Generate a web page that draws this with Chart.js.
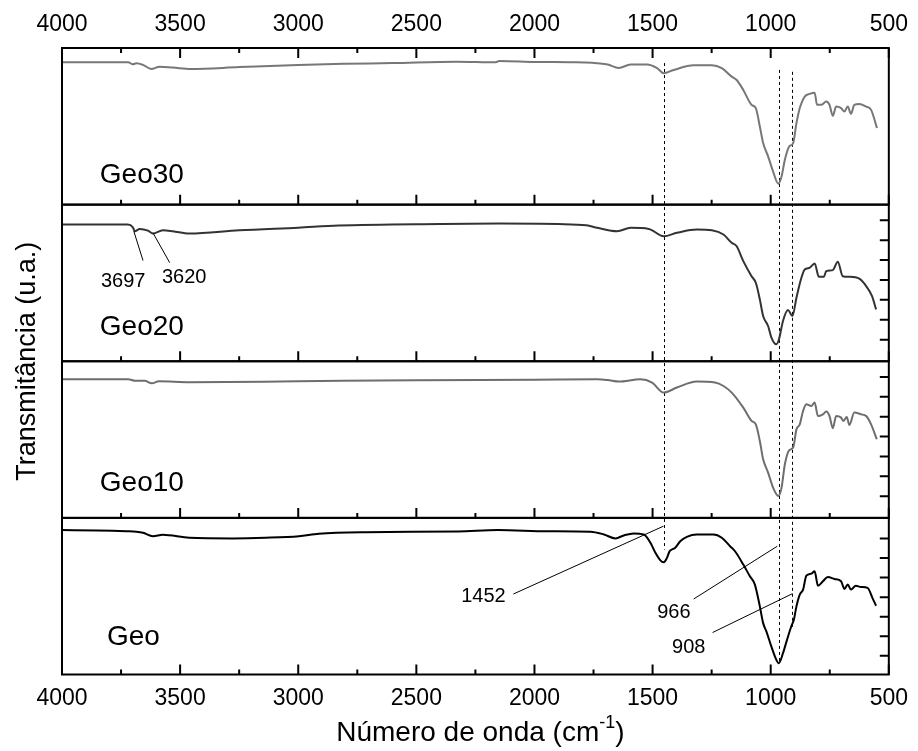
<!DOCTYPE html>
<html>
<head>
<meta charset="utf-8">
<script src="https://cdn.jsdelivr.net/npm/chart.js@4"></script>
<style>
  html, body { margin: 0; padding: 0; background: #fff; }
  canvas { display: block; }
</style>
</head>
<body>
<canvas id="ftir" width="918" height="751"></canvas>
<script>
// wavenumber axis ticks (cm-1)
const xTicks = [4000, 3500, 3000, 2500, 2000, 1500, 1000, 500];

// panels from top to bottom
const panelNames = ['Geo30', 'Geo20', 'Geo10', 'Geo'];
const panelColors = ['#777777', '#333333', '#6e6e6e', '#000000'];

// inner tick marks on the right side of each panel (none on the top one)
const rightTicks = [
  [],
  [13.8, 26.5, 39.2, 51.9, 64.6, 77.3, 90],
  [13.8, 26.5, 39.2, 51.9, 64.6, 77.3, 90],
  [11.9, 24.4, 36.9, 49.4, 61.9, 74.4, 86.9]
];

// Geo30
const geo30Wn = [4000, 3850, 3720, 3700, 3685, 3657, 3622, 3587, 3530, 3454, 3250, 3000, 2800, 2600, 2330, 2163, 2150, 2000, 1850, 1756,
  1734, 1690, 1643, 1593, 1523, 1481, 1453, 1411, 1326, 1249, 1207, 1165, 1144, 1116, 1081, 1063, 1046, 1032, 1011, 990,
  968, 954, 940, 922, 905, 891, 875, 856, 835, 814, 804, 786, 765, 751, 737, 723, 702, 688, 674, 660,
  646, 625, 596, 575, 550];
const geo30T = [90.9, 90.9, 90.9, 89.6, 90.3, 89.2, 86.6, 88.1, 87.5, 86.6, 87.8, 89.2, 89.9, 90.4, 91.3, 90.9, 91.7, 91.1, 90.9, 90.6,
  90.3, 89.5, 87.3, 89.4, 89.4, 87.1, 83.9, 86.0, 89.0, 89.0, 87.1, 81.7, 79.6, 73.2, 63.7, 61.6, 49.9, 39.3, 30.8, 21.2,
  13.4, 18.0, 28.7, 37.1, 39.3, 52.0, 62.6, 69.0, 70.7, 71.5, 63.7, 63.7, 65.8, 63.7, 56.7, 62.6, 61.6, 59.4, 62.6, 58.0,
  63.7, 64.3, 62.6, 60.5, 48.9];

// Geo20
const geo20Wn = [4000, 3850, 3721, 3700, 3692, 3671, 3636, 3615, 3573, 3531, 3461, 3250, 3000, 2829, 2400, 2150, 1900, 1780, 1734, 1650,
  1593, 1516, 1453, 1397, 1313, 1249, 1200, 1165, 1144, 1116, 1081, 1063, 1046, 1032, 1011, 997, 976, 965, 948, 927,
  908, 891, 870, 856, 835, 814, 796, 775, 765, 737, 716, 695, 667, 625, 596, 571, 554];
const geo20T = [87.3, 87.3, 87.3, 85.5, 83.0, 84.5, 83.4, 81.5, 83.6, 83.0, 81.5, 83.6, 85.3, 86.6, 87.6, 87.9, 87.6, 86.8, 85.2, 83.0,
  85.2, 84.5, 79.8, 82.0, 84.1, 83.6, 80.9, 75.6, 73.4, 63.9, 54.3, 50.1, 39.5, 28.9, 22.5, 15.1, 10.8, 14.0, 25.7, 32.7,
  28.9, 40.6, 53.3, 58.6, 59.7, 62.4, 53.9, 53.9, 57.5, 58.2, 63.5, 54.3, 53.9, 52.7, 48.0, 41.6, 33.1];

// Geo10
const geo10Wn = [4000, 3850, 3720, 3690, 3650, 3620, 3590, 3460, 3000, 2500, 2000, 1734, 1690, 1643, 1552, 1502, 1453, 1397, 1313, 1236,
  1200, 1165, 1116, 1081, 1063, 1046, 1032, 1011, 990, 968, 954, 940, 922, 905, 891, 877, 863, 849, 828, 814,
  800, 779, 765, 751, 737, 723, 702, 692, 678, 667, 646, 617, 596, 575, 551];
const geo10T = [88.5, 88.5, 88.5, 87.5, 87.5, 85.9, 87.2, 86.6, 87.2, 87.9, 88.2, 88.5, 88.0, 87.0, 88.5, 86.4, 80.0, 83.2, 87.0, 86.4,
  84.2, 80.0, 70.4, 61.9, 59.7, 49.1, 37.4, 28.9, 19.3, 14.0, 19.3, 34.2, 43.1, 44.9, 56.5, 59.7, 68.2, 72.5, 71.4, 73.6,
  65.0, 66.1, 67.9, 65.0, 57.2, 65.0, 64.0, 61.9, 64.4, 59.3, 67.2, 66.1, 65.0, 59.7, 50.2];

// Geo
const geoWn = [4000, 3850, 3727, 3685, 3657, 3615, 3573, 3461, 3278, 3138, 2997, 2913, 2716, 2323, 2155, 1944, 1762, 1706, 1657, 1622,
  1580, 1537, 1509, 1488, 1467, 1453, 1439, 1428, 1418, 1404, 1383, 1355, 1313, 1242, 1207, 1172, 1151, 1116, 1088, 1067,
  1046, 1032, 1018, 997, 976, 966, 948, 931, 912, 902, 891, 877, 863, 849, 828, 814, 800, 779, 758, 730,
  702, 688, 674, 660, 640, 618, 590, 569, 554];
const geoT = [92.2, 92.0, 91.5, 91.2, 90.5, 88.3, 89.2, 87.3, 86.9, 87.3, 88.3, 89.9, 90.9, 91.3, 92.2, 91.5, 91.2, 89.4, 86.9, 88.8,
  90.1, 89.4, 84.1, 77.7, 72.9, 71.7, 74.5, 78.7, 79.8, 80.9, 85.1, 87.9, 89.4, 89.4, 87.3, 81.9, 78.7, 70.2, 62.7, 57.4,
  43.5, 32.8, 27.4, 17.8, 9.3, 7.2, 13.6, 22.1, 31.1, 34.9, 43.5, 51.0, 54.2, 63.1, 64.4, 65.9, 56.7, 59.5, 62.3, 61.0,
  59.5, 54.6, 57.4, 54.2, 56.7, 55.9, 55.3, 48.8, 43.9];

const seriesWn = [geo30Wn, geo20Wn, geo10Wn, geoWn];
const seriesT = [geo30T, geo20T, geo10T, geoT];

// band markers: dashed guides running through all panels
const guides = [
  { wn: 1452, from: [0, 90.4], to: [3, 79.8] },
  { wn: 966, from: [0, 86.0], to: [3, 7.4] },
  { wn: 908, from: [0, 84.8], to: [3, 30.4] }
];

// peak labels with leader lines: [wavenumber, panel value]
const peakLabels = [
  { text: '3697', panel: 1, tip: [3696, 83.0], tail: [3657, 64.3], at: [3741, 51.0] },
  { text: '3620', panel: 1, tip: [3615, 82.0], tail: [3544, 62.9], at: [3483, 53.5] },
  { text: '1452', panel: 3, tip: [1454, 94.7], tail: [2089, 51.4], at: [2216, 49.7] },
  { text: '966', panel: 3, tip: [972, 81.9], tail: [1326, 48.2], at: [1410, 39.4] },
  { text: '908', panel: 3, tip: [908, 51.6], tail: [1246, 26.8], at: [1347, 17.0] }
];

// sample names inside panels
const nameAt = [[3840, 19], [3840, 21.7], [3840, 22], [3810, 24]];

const fam = '"Liberation Sans", Arial, sans-serif';

const datasets = panelNames.map((name, i) => ({
  label: name,
  data: seriesWn[i].map((w, k) => ({ x: w, y: seriesT[i][k] })),
  yAxisID: 'y' + i,
  xAxisID: 'x',
  borderColor: panelColors[i],
  borderWidth: 2,
  pointRadius: 0,
  cubicInterpolationMode: 'monotone',
  fill: false
}));

const yScales = {};
panelNames.forEach((n, i) => {
  yScales['y' + i] = {
    type: 'linear',
    position: 'left',
    stack: 'panels',
    stackWeight: 1,
    weight: 4 - i,
    min: 0,
    max: 100,
    ticks: { display: false },
    grid: { display: false, drawTicks: false },
    border: { display: false },
    afterBuildTicks: s => { s.ticks = rightTicks[i].map(v => ({ value: v })); },
    afterFit: s => { s.width = 62; }
  };
});

const xAxis = (pos, h) => ({
  type: 'linear',
  position: pos,
  min: 500,
  max: 4000,
  reverse: true,
  afterBuildTicks: s => { s.ticks = xTicks.map(v => ({ value: v })); },
  ticks: {
    color: '#000',
    font: { family: fam, size: 23 },
    padding: 10,
    maxRotation: 0,
    autoSkip: false,
    callback: v => String(v)
  },
  grid: { display: false, drawTicks: false },
  border: { display: false },
  afterFit: s => { s.height = h; }
});

const framePlugin = {
  id: 'frame',
  beforeDatasetsDraw(chart) {
    const ctx = chart.ctx;
    const xs = chart.scales.x;
    ctx.save();
    ctx.strokeStyle = '#000';
    ctx.lineWidth = 1;
    ctx.setLineDash([3, 3]);
    guides.forEach(g => {
      const px = Math.round(xs.getPixelForValue(g.wn)) + 0.5;
      ctx.beginPath();
      ctx.moveTo(px, chart.scales['y' + g.from[0]].getPixelForValue(g.from[1]));
      ctx.lineTo(px, chart.scales['y' + g.to[0]].getPixelForValue(g.to[1]));
      ctx.stroke();
    });
    ctx.restore();
  },
  afterDatasetsDraw(chart) {
    const ctx = chart.ctx;
    const xs = chart.scales.x;
    const { left, right, top, bottom } = chart.chartArea;
    ctx.save();
    ctx.strokeStyle = '#000';
    ctx.fillStyle = '#000';

    // leader lines and peak labels
    ctx.lineWidth = 1;
    peakLabels.forEach(p => {
      const ys = chart.scales['y' + p.panel];
      ctx.beginPath();
      ctx.moveTo(xs.getPixelForValue(p.tip[0]), ys.getPixelForValue(p.tip[1]));
      ctx.lineTo(xs.getPixelForValue(p.tail[0]), ys.getPixelForValue(p.tail[1]));
      ctx.stroke();
      ctx.font = '20px ' + fam;
      ctx.textAlign = 'center';
      ctx.textBaseline = 'middle';
      ctx.fillText(p.text, xs.getPixelForValue(p.at[0]), ys.getPixelForValue(p.at[1]));
    });

    // panel frames and inner ticks
    ctx.lineWidth = 2;
    const majors = xs.ticks.map(t => t.value);
    const minors = majors.slice(1).map((v, k) => (v + majors[k]) / 2);
    panelNames.forEach((name, i) => {
      const ys = chart.scales['y' + i];
      ctx.strokeRect(left, ys.top, right - left, ys.bottom - ys.top);
      ctx.beginPath();
      majors.forEach(v => {
        const px = xs.getPixelForValue(v);
        ctx.moveTo(px, ys.bottom); ctx.lineTo(px, ys.bottom - 10);
        if (i === 0) { ctx.moveTo(px, ys.top); ctx.lineTo(px, ys.top + 10); }
      });
      minors.forEach(v => {
        const px = xs.getPixelForValue(v);
        ctx.moveTo(px, ys.bottom); ctx.lineTo(px, ys.bottom - 5);
        if (i === 0) { ctx.moveTo(px, ys.top); ctx.lineTo(px, ys.top + 5); }
      });
      ys.ticks.forEach(t => {
        const py = ys.getPixelForValue(t.value);
        ctx.moveTo(right, py); ctx.lineTo(right - 9, py);
      });
      ctx.stroke();

      ctx.font = '28px ' + fam;
      ctx.textAlign = 'left';
      ctx.textBaseline = 'middle';
      ctx.fillText(name, xs.getPixelForValue(nameAt[i][0]), ys.getPixelForValue(nameAt[i][1]));
    });

    // axis titles
    const cx = (left + right) / 2 + 5;
    const main = 'Número de onda (cm';
    const sup = '-1';
    const tail = ')';
    ctx.font = '28px ' + fam;
    const w1 = ctx.measureText(main).width;
    const w3 = ctx.measureText(tail).width;
    ctx.font = '18px ' + fam;
    const w2 = ctx.measureText(sup).width;
    const x0 = cx - (w1 + w2 + w3) / 2;
    const ty = 733;
    ctx.textAlign = 'left';
    ctx.textBaseline = 'middle';
    ctx.font = '28px ' + fam;
    ctx.fillText(main, x0, ty);
    ctx.font = '18px ' + fam;
    ctx.fillText(sup, x0 + w1, ty - 10);
    ctx.font = '28px ' + fam;
    ctx.fillText(tail, x0 + w1 + w2, ty);

    ctx.font = '27px ' + fam;
    ctx.translate(28, (top + bottom) / 2);
    ctx.rotate(-Math.PI / 2);
    ctx.textAlign = 'center';
    ctx.fillText('Transmitância (u.a.)', 0, 0);
    ctx.restore();
  }
};

new Chart(document.getElementById('ftir'), {
  type: 'line',
  data: { datasets },
  options: {
    responsive: false,
    animation: false,
    devicePixelRatio: 1,
    layout: { padding: { left: 0, right: 26, top: 0, bottom: 0 } },
    plugins: { legend: { display: false }, tooltip: { enabled: false } },
    scales: Object.assign({ x: xAxis('bottom', 76.5), x2: xAxis('top', 48) }, yScales)
  },
  plugins: [framePlugin]
});
</script>
</body>
</html>
